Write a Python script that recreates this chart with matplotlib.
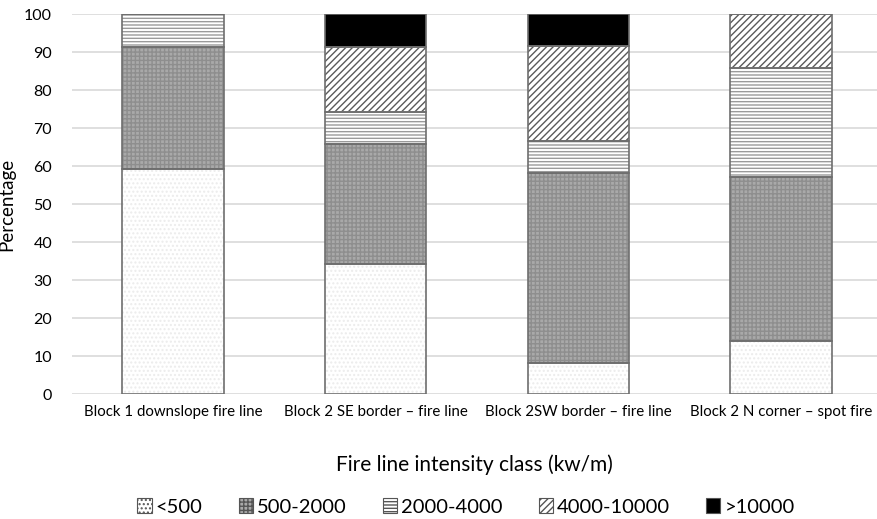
import numpy as np
import matplotlib.pyplot as plt
from matplotlib.patches import Patch

plt.rcParams['font.family'] = ['Lato', 'DejaVu Sans']

# Data
sites = ['Block 1 downslope fire line', 'Block 2 SE border \u2013 fire line',
         'Block 2SW border \u2013 fire line', 'Block 2 N corner \u2013 spot fire']
classes = ['<500', '500-2000', '2000-4000', '4000-10000', '>10000']
lt500 = [59.1, 34.2, 8.2, 14.0]
c500_2000 = [32.3, 31.6, 50.0, 43.0]
c2000_4000 = [8.6, 8.4, 8.5, 28.7]
c4000_10000 = [0.0, 17.2, 25.0, 14.3]
gt10000 = [0.0, 8.6, 8.3, 0.0]

series = [lt500, c500_2000, c2000_4000, c4000_10000, gt10000]
# fill colour, hatch, hatch colour
styles = [('white', '....', '#ececec'),
          ('#a9a9a9', '++++', '#8e8e8e'),
          ('white', '-----', '#9a9a9a'),
          ('white', '/////', '#5a5a5a'),
          ('black', None, 'black')]


def main():
    fig = plt.figure(figsize=(8.77, 5.19), dpi=100)
    ax = fig.add_axes([71.5 / 877, 125 / 519, 1 - 71.5 / 877, 380 / 519])

    x = np.arange(len(sites))
    bottom = np.zeros(len(sites))
    for vals, (fc, hatch, hc) in zip(series, styles):
        vals = np.array(vals)
        # fill + hatch first, outline on top
        ax.bar(x, vals, 0.5, bottom=bottom, color=fc, hatch=hatch,
               edgecolor=hc, linewidth=0, zorder=2)
        ax.bar(x, vals, 0.5, bottom=bottom, fill=False,
               edgecolor='#6e6e6e', linewidth=1.2, zorder=3)
        bottom += vals

    ax.set_xlim(-0.5, 3.474)
    ax.set_ylim(0, 100)
    ax.set_yticks(range(0, 101, 10))
    ax.set_xticks(x)
    ax.set_xticklabels(sites, fontsize=10.8)
    ax.tick_params(axis='y', labelsize=11.5, length=0, pad=14)
    ax.tick_params(axis='x', length=0, pad=8)
    ax.yaxis.grid(True, color='#d9d9d9', linewidth=1.2, zorder=0)
    ax.set_axisbelow(True)
    for s in ax.spines.values():
        s.set_visible(False)

    ax.set_ylabel('Percentage', fontsize=13.5, labelpad=6)
    fig.text(474 / 877, 1 - 465 / 519, 'Fire line intensity class (kw/m)',
             fontsize=15, ha='center', va='center')

    handles = [Patch(facecolor=fc, edgecolor='#555555', hatch=h, linewidth=0.8)
               for fc, h, hc in styles]
    fig.legend(handles, classes, loc='center', bbox_to_anchor=(466 / 877, 1 - 507 / 519),
               ncol=5, frameon=False, fontsize=14.5, handlelength=0.7, handleheight=0.7,
               handletextpad=0.2, columnspacing=1.8)

    fig.savefig('out.png', dpi=100)


main()
